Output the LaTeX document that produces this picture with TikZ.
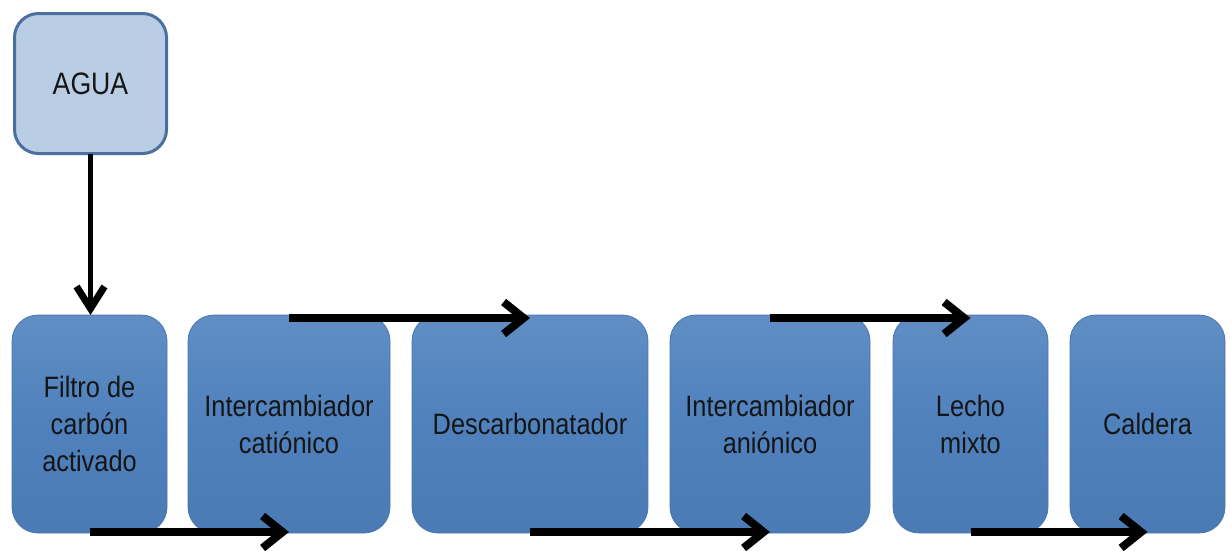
\documentclass[tikz,border=0pt]{standalone}
\usepackage{fontspec}
\setmainfont{Liberation Sans}
\newfontfamily\narrowsans[FakeStretch=0.86]{Liberation Sans}
\usetikzlibrary{arrows.meta}
\definecolor{boxblue}{HTML}{4F81BD}
\definecolor{boxedge}{HTML}{4877B2}
\definecolor{aguafill}{HTML}{B9CDE5}
\definecolor{aguaedge}{HTML}{4A6FA0}
\definecolor{txt}{HTML}{151515}
\begin{document}
\begin{tikzpicture}[x=1pt,y=-1pt,
  procbox/.style={rectangle, rounded corners=26pt, inner sep=0pt, outer sep=0pt,
    minimum height=218pt, top color=boxblue!90!white, bottom color=boxblue!95!black,
    middle color=boxblue, draw=boxedge, line width=0.8pt, align=center, text=txt,
    font=\narrowsans\fontsize{29.5}{37}\selectfont},
  srcbox/.style={rectangle, rounded corners=24pt, inner sep=0pt, outer sep=0pt,
    minimum width=152pt, minimum height=140pt, fill=aguafill, draw=aguaedge,
    line width=3pt, text=txt, font=\narrowsans\fontsize{31}{32}\selectfont},
  flowh/.style={line width=8pt, -{Straight Barb[length=20pt,width=32pt,line width=8pt]}},
  flowv/.style={line width=5pt, -{Straight Barb[length=22pt,width=28pt,line width=7pt]}}
]
\useasboundingbox (0,0) rectangle (1230,550);
\node[srcbox] (agua) at (90.5,83.5) {AGUA};
\node[procbox, minimum width=155pt] (filtro) at (89.5,424) {Filtro de\\carbón\\activado};
\node[procbox, minimum width=202pt] (cat) at (289,424) {Intercambiador\\catiónico};
\node[procbox, minimum width=236pt] (desc) at (530,424) {Descarbonatador};
\node[procbox, minimum width=200pt] (ani) at (770,424) {Intercambiador\\aniónico};
\node[procbox, minimum width=155pt] (lecho) at (970.5,424) {Lecho\\mixto};
\node[procbox, minimum width=155pt] (caldera) at (1147.5,424) {Caldera};

\draw[flowv] (agua.south) -- (agua.south |- filtro.north);
\draw[flowh] ([yshift=1pt]filtro.south) -- ([yshift=1pt]cat.south);
\draw[flowh] ([yshift=-3pt]cat.north) -- ([yshift=-3pt]desc.north);
\draw[flowh] ([yshift=1pt]desc.south) -- ([yshift=1pt]ani.south);
\draw[flowh] ([yshift=-3pt]ani.north) -- ([yshift=-3pt]lecho.north);
\draw[flowh] ([yshift=1pt]lecho.south) -- ([yshift=1pt]caldera.south);
\end{tikzpicture}
\end{document}
